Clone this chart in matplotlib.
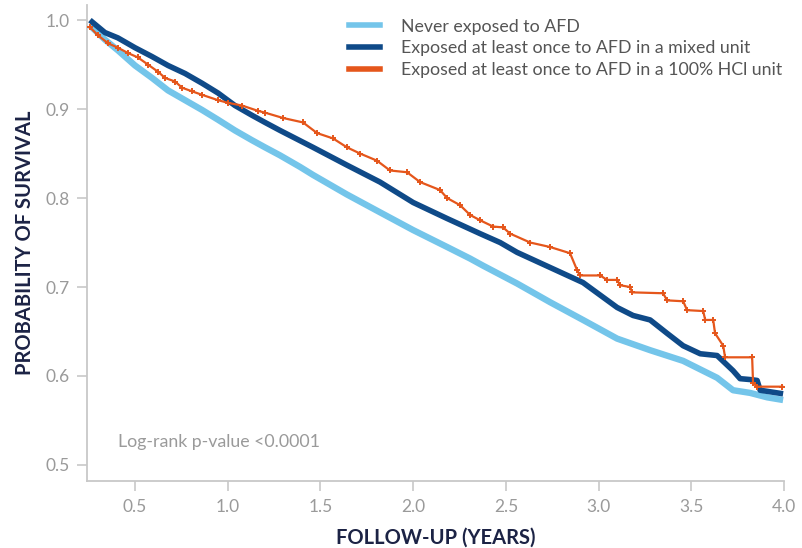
import matplotlib
matplotlib.use('Agg')
import matplotlib.pyplot as plt

plt.rcParams['font.family'] = ['Lato', 'DejaVu Sans']

# Kaplan-Meier curves (years, survival probability)
never_t = [0.257, 0.338, 0.408, 0.500, 0.592, 0.678, 0.770, 0.862, 0.948, 1.039,
           1.131, 1.201, 1.282, 1.390, 1.460, 1.643, 1.821, 2.000, 2.183, 2.307,
           2.377, 2.560, 2.738, 2.916, 3.100, 3.278, 3.456, 3.639, 3.725, 3.817,
           3.909, 3.995]
never_s = [0.994, 0.978, 0.966, 0.949, 0.935, 0.921, 0.910, 0.899, 0.888, 0.876,
           0.865, 0.857, 0.848, 0.835, 0.826, 0.804, 0.784, 0.764, 0.745, 0.732,
           0.724, 0.704, 0.683, 0.663, 0.642, 0.629, 0.617, 0.598, 0.584, 0.581,
           0.576, 0.573]

mixed_t = [0.257, 0.338, 0.408, 0.500, 0.592, 0.678, 0.770, 0.862, 0.948, 1.039,
           1.131, 1.201, 1.282, 1.460, 1.643, 1.821, 2.000, 2.183, 2.361, 2.469,
           2.560, 2.738, 2.916, 3.100, 3.186, 3.278, 3.369, 3.456, 3.548, 3.639,
           3.725, 3.763, 3.817, 3.855, 3.871, 3.995]
mixed_s = [1.000, 0.986, 0.980, 0.969, 0.959, 0.949, 0.940, 0.929, 0.918, 0.904,
           0.893, 0.885, 0.876, 0.857, 0.837, 0.818, 0.795, 0.777, 0.760, 0.750,
           0.739, 0.722, 0.705, 0.677, 0.668, 0.663, 0.648, 0.634, 0.625, 0.623,
           0.606, 0.597, 0.596, 0.595, 0.584, 0.580]

hcl_t = [0.257, 0.300, 0.354, 0.408, 0.462, 0.516, 0.570, 0.624, 0.662, 0.716,
         0.754, 0.807, 0.862, 0.948, 1.002, 1.077, 1.163, 1.201, 1.298, 1.406,
         1.482, 1.568, 1.643, 1.714, 1.805, 1.875, 1.967, 2.037, 2.145, 2.183,
         2.253, 2.307, 2.361, 2.431, 2.485, 2.523, 2.631, 2.738, 2.846, 2.884,
         2.900, 3.008, 3.046, 3.100, 3.116, 3.170, 3.181, 3.348, 3.369, 3.456,
         3.477, 3.564, 3.575, 3.618, 3.628, 3.672, 3.682, 3.828, 3.833, 3.855,
         3.990]
hcl_s = [0.992, 0.983, 0.974, 0.969, 0.963, 0.958, 0.950, 0.942, 0.935, 0.931,
         0.924, 0.920, 0.916, 0.910, 0.907, 0.904, 0.898, 0.896, 0.890, 0.885,
         0.873, 0.867, 0.857, 0.850, 0.842, 0.831, 0.829, 0.818, 0.809, 0.800,
         0.792, 0.781, 0.775, 0.768, 0.767, 0.760, 0.750, 0.745, 0.738, 0.719,
         0.713, 0.713, 0.708, 0.708, 0.702, 0.700, 0.694, 0.693, 0.685, 0.684,
         0.674, 0.673, 0.663, 0.663, 0.648, 0.634, 0.621, 0.621, 0.592, 0.588,
         0.588]

labels = ['Never exposed to AFD',
          'Exposed at least once to AFD in a mixed unit',
          'Exposed at least once to AFD in a 100% HCl unit']
colors = ['#74c5ea', '#0f4a88', '#e5561b']

x_ticks = [0.5, 1.0, 1.5, 2.0, 2.5, 3.0, 3.5, 4.0]
y_ticks = [0.5, 0.6, 0.7, 0.8, 0.9, 1.0]

fig = plt.figure(figsize=(8.02, 5.48), dpi=100)
ax = fig.add_axes([0.1089, 0.1223, 0.8687, 0.8686])

ax.plot(never_t, never_s, color=colors[0], lw=4.6, solid_capstyle='butt',
        label=labels[0], zorder=2)
ax.plot(mixed_t, mixed_s, color=colors[1], lw=4.0, solid_capstyle='butt',
        label=labels[1], zorder=3)
ax.plot(hcl_t, hcl_s, color=colors[2], lw=1.6, marker='+', ms=5, mew=1.4,
        label=labels[2], zorder=4)

ax.set_xlim(0.243, 4.0)
ax.set_ylim(0.482, 1.017)
ax.set_xticks(x_ticks)
ax.set_yticks(y_ticks)
ax.set_xticklabels([f'{v:.1f}' for v in x_ticks])
ax.set_yticklabels([f'{v:.1f}' for v in y_ticks])

# Axis styling
for side in ['top', 'right']:
    ax.spines[side].set_visible(False)
for side in ['left', 'bottom']:
    ax.spines[side].set_color('#c8c8c8')
    ax.spines[side].set_linewidth(1.3)
ax.tick_params(axis='both', colors='#c8c8c8', labelcolor='#9a9a9a',
               length=7, width=1.2, labelsize=12.5, pad=6)

ax.set_xlabel('FOLLOW-UP (YEARS)', fontsize=14.5, fontweight='bold',
              color='#1c2345', labelpad=9)
ax.set_ylabel('PROBABILITY OF SURVIVAL', fontsize=14.5, fontweight='bold',
              color='#1c2345', labelpad=7)

ax.text(0.044, 0.082, 'Log-rank p-value <0.0001', transform=ax.transAxes,
        fontsize=12.8, color='#9a9a9a', ha='left', va='center')

# Legend: thick handles for all three groups
leg_lines = [plt.Line2D([], [], color=c, lw=4) for c in colors]
leg = ax.legend(leg_lines, labels, loc='upper left', frameon=False,
                bbox_to_anchor=(0.352, 1.005), fontsize=12.8, handlelength=1.75,
                handletextpad=1.2, labelspacing=0.32)
for t in leg.get_texts():
    t.set_color('#555555')

fig.savefig('out.png', dpi=100)
